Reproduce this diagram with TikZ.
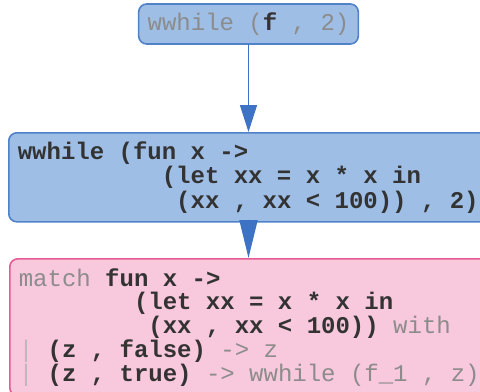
\documentclass[tikz,border=0pt]{standalone}
\usepackage{fontspec}
\setmonofont{Liberation Mono}
\usetikzlibrary{arrows.meta}
\definecolor{boxblue}{HTML}{9EBEE6}
\definecolor{lineblue}{HTML}{5082C8}
\definecolor{arrblue}{HTML}{3D72C4}
\definecolor{boxpink}{HTML}{F8C8DC}
\definecolor{linepink}{HTML}{E85A94}
\definecolor{codedark}{HTML}{333333}
\definecolor{codegray}{HTML}{8C8C8C}
\newlength{\chw}\setlength{\chw}{7.2pt}
\newcommand{\gr}[1]{\textcolor{codegray}{\mdseries #1}}
\newcommand{\sk}[1]{\hspace*{#1\chw}}
\newcommand{\codespace}{\spaceskip=7.2pt plus 0pt minus 0pt\relax
  \xspaceskip=7.2pt plus 0pt minus 0pt\relax}

\begin{document}
\begin{tikzpicture}[x=0.5pt,y=-0.5pt,line cap=round,line join=round,
  code/.style={font=\ttfamily\bfseries\fontsize{12pt}{12.25pt}\selectfont,
    execute at begin node=\codespace,text=codedark,
    align=left,inner xsep=4.5pt,rounded corners=4pt,line width=0.8pt},
  bluebox/.style={code,draw=lineblue,fill=boxblue},
  pinkbox/.style={code,draw=linepink,fill=boxpink,
    font=\ttfamily\bfseries\fontsize{12pt}{11.9pt}\selectfont}]
\useasboundingbox (0,0) rectangle (480,391);
\clip (0,0) rectangle (480,391);
\node[bluebox,minimum width=108.5pt,minimum height=20pt] (call) at (248.5,24)
  {\gr{wwhile (}f\gr{ , 2)}};
\node[bluebox,anchor=north west,text width=237pt,minimum height=44.5pt] (unfold) at (8,132)
  {wwhile (fun x ->\\
   \sk{10}(let xx = x * x in\\
   \sk{11}(xx , xx < 100)) , 2)};
\node[pinkbox,anchor=north west,text width=236.5pt,minimum height=68.5pt] (check) at (9,258)
  {\gr{match} fun x ->\\
   \sk{8}(let xx = x * x in\\
   \sk{9}(xx , xx < 100)) \gr{with}\\
   \textcolor{codegray!60}{\mdseries|} (z , false) \gr{-> z}\\
   \textcolor{codegray!60}{\mdseries|} (z , true) \gr{-> wwhile (f\_1 , z)}};
\draw [arrblue,line width=0.75pt,-{Triangle[length=13.5pt,width=8.5pt]}]
  (call.south) -- (call.south |- unfold.north);
\draw [arrblue,line width=1pt,-{Triangle[length=19pt,width=9pt]}]
  (call.south |- unfold.south) -- (call.south |- check.north);
\end{tikzpicture}
\end{document}
